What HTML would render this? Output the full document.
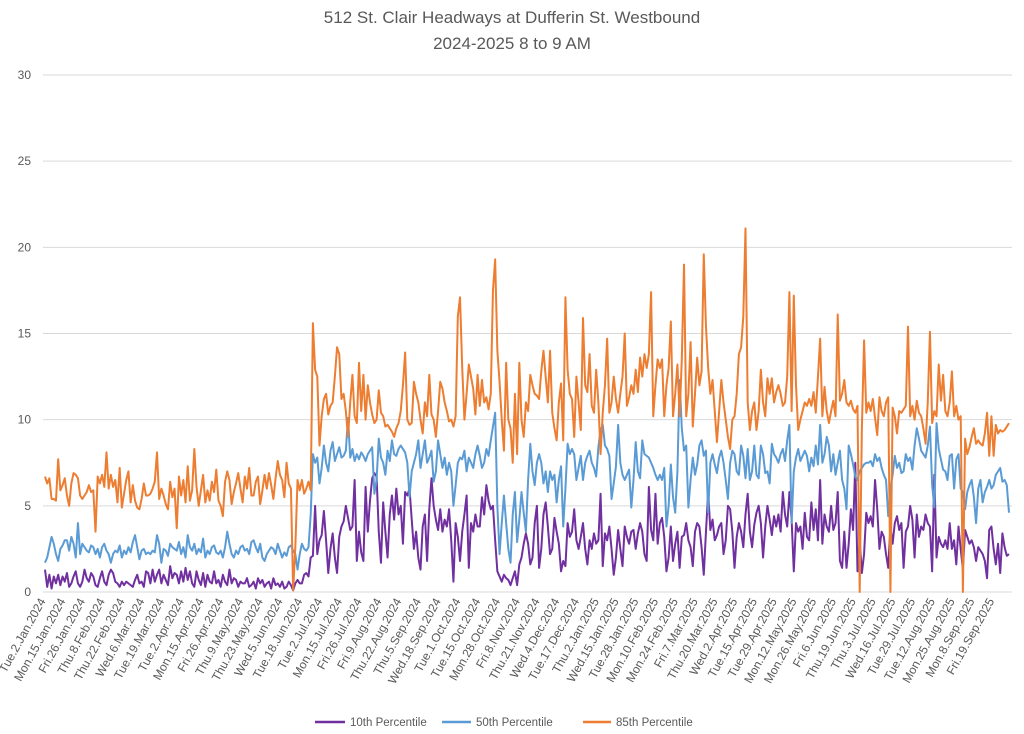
<!DOCTYPE html>
<html><head><meta charset="utf-8"><style>
html,body{margin:0;padding:0;background:#fff;}
svg{display:block;font-family:"Liberation Sans",sans-serif;}
</style></head><body>
<svg id="chart" width="1024" height="734" viewBox="0 0 1024 734">
<text x="512" y="23" text-anchor="middle" font-size="17" fill="#595959">512 St. Clair Headways at Dufferin St. Westbound</text>
<text x="512" y="49" text-anchor="middle" font-size="17" fill="#595959">2024-2025 8 to 9 AM</text>
<g id="grid"></g>
<g id="yaxis"></g>
<g id="xaxis"></g>
<g id="series"></g>
<g font-size="11.5" fill="#595959">
<g><line x1="315" y1="722" x2="345" y2="722" stroke="#7030a0" stroke-width="2.5"/><text x="350" y="726">10th Percentile</text></g>
<g><line x1="442" y1="722" x2="471" y2="722" stroke="#5b9bd5" stroke-width="2.5"/><text x="476" y="726">50th Percentile</text></g>
<g><line x1="583" y1="722" x2="611" y2="722" stroke="#ed7d31" stroke-width="2.5"/><text x="616" y="726">85th Percentile</text></g>
</g>
</svg>
<script>
const tickLabels=["Tue.2.Jan.2024","Mon.15.Jan.2024","Fri.26.Jan.2024","Thu.8.Feb.2024","Thu.22.Feb.2024","Wed.6.Mar.2024","Tue.19.Mar.2024","Tue.2.Apr.2024","Mon.15.Apr.2024","Fri.26.Apr.2024","Thu.9.May.2024","Thu.23.May.2024","Wed.5.Jun.2024","Tue.18.Jun.2024","Tue.2.Jul.2024","Mon.15.Jul.2024","Fri.26.Jul.2024","Fri.9.Aug.2024","Thu.22.Aug.2024","Thu.5.Sep.2024","Wed.18.Sep.2024","Tue.1.Oct.2024","Tue.15.Oct.2024","Mon.28.Oct.2024","Fri.8.Nov.2024","Thu.21.Nov.2024","Wed.4.Dec.2024","Tue.17.Dec.2024","Thu.2.Jan.2025","Wed.15.Jan.2025","Tue.28.Jan.2025","Mon.10.Feb.2025","Mon.24.Feb.2025","Fri.7.Mar.2025","Thu.20.Mar.2025","Wed.2.Apr.2025","Tue.15.Apr.2025","Tue.29.Apr.2025","Mon.12.May.2025","Mon.26.May.2025","Fri.6.Jun.2025","Thu.19.Jun.2025","Thu.3.Jul.2025","Wed.16.Jul.2025","Tue.29.Jul.2025","Tue.12.Aug.2025","Mon.25.Aug.2025","Mon.8.Sep.2025","Fri.19.Sep.2025"];
const yTicks=[0,5,10,15,20,25,30];
const p85=[6.7,6.3,6.6,5.4,5.4,5.3,7.7,5.9,6.2,6.6,
5.6,5.0,6.3,6.9,6.8,6.6,5.6,5.4,5.6,5.8,
6.2,5.8,5.9,3.5,6.7,6.3,6.8,6.1,8.1,6.0,
6.8,6.1,6.5,5.2,7.2,4.9,5.7,6.5,7.0,5.2,
6.2,5.3,4.9,4.8,5.4,6.3,5.6,5.6,5.7,6.0,
6.4,8.1,5.4,6.0,5.6,5.1,4.8,6.4,5.5,6.0,
3.7,6.7,5.6,6.5,5.2,7.3,5.3,5.9,8.3,6.1,
5.0,5.9,6.8,5.2,5.9,5.3,6.4,5.8,7.1,5.3,
5.0,4.4,6.4,7.0,6.5,5.1,5.8,6.3,6.9,6.0,
5.2,6.7,6.0,7.2,5.6,5.6,6.4,6.7,5.1,5.9,
6.8,6.0,6.9,6.2,5.4,6.6,7.6,6.8,6.5,5.5,
7.5,6.3,6.0,0.1,2.6,6.5,5.9,6.5,5.7,6.0,
6.4,5.9,15.6,12.9,12.5,8.5,10.2,11.2,11.5,10.3,
10.8,11.0,12.5,14.2,13.8,11.2,11.5,10.5,9.0,11.0,
12.6,10.2,9.8,13.3,10.5,12.6,10.0,12.0,11.0,10.3,
9.8,10.0,11.7,10.4,10.2,9.6,9.7,9.5,9.3,9.0,
9.5,9.8,10.5,12.0,13.9,10.0,9.7,9.8,12.2,11.5,
11.0,10.0,9.2,11.0,10.2,12.6,10.3,10.0,9.0,10.5,
12.2,11.8,11.0,10.5,9.9,10.0,9.6,10.2,16.0,17.1,
13.0,10.0,11.5,13.2,12.5,11.8,10.3,12.6,10.8,12.3,
11.0,11.3,10.6,11.5,17.5,19.3,14.0,12.2,10.0,8.2,
13.3,10.0,9.5,7.5,11.5,8.0,13.3,10.0,9.0,11.0,
10.5,12.6,12.0,11.5,11.4,11.2,12.8,14.0,12.5,11.0,
14.0,10.4,9.5,8.8,11.0,12.1,8.8,17.1,12.9,11.5,
11.2,9.0,12.5,11.0,9.4,15.9,12.0,11.6,13.8,10.8,
10.4,12.9,11.0,8.0,10.4,12.0,14.7,10.4,11.0,12.5,
11.2,10.4,11.5,12.5,15.0,10.8,11.3,12.0,11.5,12.9,
11.6,13.6,12.5,13.8,13.0,13.8,17.4,10.2,12.0,13.5,
13.0,13.5,10.2,12.0,13.0,15.7,10.2,11.5,13.2,10.2,
13.5,19.0,10.2,11.5,14.5,9.6,11.5,13.6,12.0,12.8,
19.6,15.4,13.0,11.5,12.3,10.5,8.7,10.5,12.3,11.0,
10.0,9.0,8.3,10.0,10.2,11.5,13.8,14.2,16.0,21.1,
11.0,9.4,10.5,11.0,9.4,10.5,12.9,11.0,10.2,12.4,
11.5,12.4,11.0,11.6,12.0,11.5,10.8,11.0,12.5,17.4,
10.5,17.2,12.0,9.4,10.0,10.5,11.0,10.8,11.2,10.8,
11.6,10.4,12.5,14.7,10.2,11.9,10.5,9.8,10.5,11.1,
10.2,16.1,11.1,11.5,12.3,11.0,10.8,11.1,10.6,10.4,
10.8,0.0,9.5,14.6,10.4,11.0,10.5,11.2,10.1,9.1,
11.3,10.5,10.2,11.0,11.3,0.0,10.7,10.2,9.2,10.5,
10.4,10.6,10.8,15.4,10.2,10.8,10.0,11.1,10.4,10.2,
9.5,8.6,11.0,15.1,9.8,10.5,10.2,13.2,11.1,12.6,
10.5,10.2,11.0,12.8,10.2,10.8,10.0,10.2,0.0,8.9,
8.0,8.4,9.0,9.5,8.6,8.8,8.6,8.5,9.2,10.4,
7.9,10.2,7.9,9.7,9.2,9.4,9.3,9.4,9.6,9.8];
const p50=[1.7,2.0,2.6,3.2,2.8,2.2,1.8,2.5,2.7,3.0,
3.0,2.4,3.2,2.8,2.0,4.0,2.2,2.8,2.6,2.4,
2.3,2.7,2.6,2.2,2.5,2.0,2.6,2.8,2.4,2.2,
1.7,2.2,2.4,2.3,2.7,2.0,2.4,2.2,2.6,2.3,
2.9,3.3,2.6,1.9,2.4,2.5,2.2,2.3,2.2,2.4,
2.3,3.3,2.8,1.7,2.5,2.4,2.1,2.8,2.6,2.5,
2.4,2.9,2.2,2.6,2.0,3.3,2.6,2.4,2.8,2.2,
2.5,2.3,3.1,2.0,2.4,2.2,2.6,2.7,2.3,2.2,
2.4,2.0,2.6,3.5,2.8,2.2,2.0,2.4,2.2,2.6,
2.7,2.4,2.5,2.2,2.9,3.0,2.6,2.3,2.8,2.0,
1.8,2.2,2.4,2.6,2.5,2.2,2.8,2.4,2.0,2.3,
2.1,2.6,2.7,2.4,2.2,1.3,2.2,2.8,2.5,2.4,
2.6,4.5,8.0,7.5,7.8,6.3,7.2,8.5,7.5,7.0,
8.2,8.7,7.6,8.0,8.4,7.8,7.9,8.2,10.1,7.8,
8.3,7.6,8.0,7.7,8.1,7.9,7.6,8.0,8.2,8.4,
5.7,6.5,8.9,7.8,7.5,6.8,8.2,7.6,8.8,8.0,
7.9,8.3,8.5,8.3,8.1,7.5,5.5,7.0,7.5,8.0,
8.8,7.2,8.0,8.8,7.5,7.8,8.2,6.4,7.0,8.8,
8.0,7.2,7.8,6.8,7.5,7.0,5.0,6.2,7.5,7.8,
7.7,8.2,7.0,7.8,7.5,7.2,8.0,8.5,7.9,7.2,
7.5,8.3,7.9,8.8,9.6,10.4,5.0,2.2,4.0,5.6,
4.0,2.5,1.7,4.5,5.8,2.9,4.2,5.8,4.6,3.5,
6.5,8.6,7.0,6.2,7.5,8.0,7.5,6.3,7.0,5.8,
7.0,6.5,6.8,5.2,6.5,7.3,3.8,6.0,8.6,8.0,
8.3,8.0,6.5,7.2,7.9,6.5,7.5,7.9,8.2,7.5,
7.2,6.7,8.4,9.4,9.7,8.5,8.3,7.9,5.4,6.3,
7.3,9.7,7.5,6.8,6.5,6.8,7.1,4.9,6.5,8.7,
7.0,6.6,8.8,8.0,7.9,7.8,7.5,7.2,6.8,6.5,
6.8,6.5,7.2,3.8,5.0,7.4,5.5,4.6,7.0,12.3,
9.5,8.2,8.5,4.9,6.5,7.8,6.8,7.4,8.5,8.8,
7.9,8.2,4.6,7.5,8.0,7.4,6.9,7.8,8.2,7.5,
6.5,5.4,7.5,8.2,8.0,7.0,6.8,8.5,7.9,6.6,
8.3,6.5,7.0,8.5,6.8,6.6,8.5,8.0,6.9,7.0,
6.3,8.6,8.0,7.8,7.5,8.0,8.3,7.6,8.8,9.7,
4.0,7.0,7.8,8.3,7.6,7.9,8.2,7.9,7.0,7.8,
7.3,8.5,7.4,9.7,7.5,8.0,9.0,8.5,7.0,8.0,
6.8,7.5,8.2,6.5,6.0,4.8,8.5,8.0,7.4,6.7,
6.5,7.0,7.2,7.4,7.5,7.5,7.6,7.3,8.0,7.6,
7.8,7.2,6.8,6.5,4.4,6.0,6.8,7.9,7.2,7.5,
6.9,7.0,8.0,7.6,7.8,7.1,8.5,9.5,8.9,8.2,
8.0,7.8,8.5,9.6,6.2,4.9,9.8,8.3,7.7,7.1,
7.0,6.5,7.9,8.0,6.0,7.7,8.0,6.0,5.8,4.8,
5.8,6.2,6.5,5.5,4.0,6.0,6.5,5.2,5.8,6.1,
6.5,6.0,6.2,6.8,7.0,7.2,6.4,6.5,6.2,4.6];
const p10=[1.3,0.3,1.0,0.2,0.9,0.5,1.0,0.4,0.9,0.6,
1.1,0.3,0.5,0.9,1.2,0.5,0.3,0.6,1.3,0.8,
0.6,1.1,0.9,0.4,0.3,0.8,1.2,0.6,0.4,1.0,
1.3,1.1,0.6,0.5,0.3,0.6,0.4,0.6,0.5,0.4,
0.3,0.7,1.0,0.5,0.6,0.3,1.2,1.1,0.5,1.3,
0.6,1.0,1.3,0.5,1.0,0.7,0.4,1.5,0.8,1.1,
1.0,0.5,1.2,0.6,1.4,0.7,1.2,0.5,0.3,1.2,
0.7,0.4,1.1,0.3,1.0,0.6,0.5,1.2,0.5,0.7,
0.3,1.0,0.6,0.4,1.3,0.5,0.8,0.7,0.3,0.6,
0.5,0.5,0.8,0.3,0.4,0.6,0.2,0.8,0.5,0.7,
0.3,0.5,0.6,0.2,0.8,0.4,0.5,0.3,0.6,0.2,
0.3,0.6,0.4,0.1,0.5,0.7,0.5,0.5,1.0,1.1,
0.9,2.0,2.1,5.0,2.2,3.0,3.3,4.7,3.0,1.1,
2.5,3.4,2.0,1.1,3.2,3.8,4.1,5.0,4.3,3.6,
3.8,6.5,1.8,3.5,2.3,1.8,6.1,3.5,5.3,6.6,
6.9,6.7,3.5,1.7,5.2,3.5,2.0,4.5,5.6,4.2,
6.0,4.5,5.0,2.8,5.8,5.6,6.0,4.2,2.5,3.5,
2.0,1.3,3.8,4.5,1.8,4.8,6.6,5.0,4.2,3.6,
4.8,3.5,4.2,3.8,4.8,3.0,0.6,4.0,3.2,1.8,
3.5,4.5,5.6,1.4,4.0,3.5,4.5,3.8,3.8,5.5,
4.5,6.2,5.3,4.8,5.0,3.0,1.2,0.9,0.6,1.0,
0.8,0.7,0.4,0.8,1.2,0.4,1.6,2.0,2.8,3.4,
2.8,1.6,2.0,4.0,5.0,1.4,2.5,4.5,5.2,3.8,
2.2,2.5,4.3,3.5,2.8,1.2,1.8,1.5,4.0,3.2,
3.5,4.8,3.0,2.5,3.2,4.0,2.5,1.6,3.0,2.5,
3.4,2.8,3.0,5.7,1.5,3.4,3.0,3.8,2.5,1.0,
2.0,3.6,2.5,1.5,3.8,3.2,2.8,3.5,3.6,2.5,
3.4,4.0,3.5,2.2,1.8,6.1,3.6,3.0,5.7,2.8,
4.0,4.3,3.2,1.2,2.0,3.8,1.8,2.8,3.5,1.4,
3.2,3.3,4.0,3.0,2.6,1.5,3.5,4.0,3.8,2.6,
1.0,3.5,5.8,3.6,4.2,3.0,3.3,3.8,4.0,2.2,
3.0,5.0,4.8,3.5,1.4,3.2,4.0,3.5,2.6,4.5,
5.7,3.5,2.6,3.9,4.6,5.0,4.0,2.0,3.8,5.0,
4.2,3.3,4.4,3.8,4.5,3.5,5.8,4.5,3.8,5.8,
4.2,1.2,4.0,3.5,3.8,2.5,4.6,3.2,3.0,5.2,
3.6,4.8,3.0,6.5,2.8,4.5,3.8,3.5,5.0,3.6,
4.0,5.8,1.8,1.4,3.5,1.4,2.8,4.8,3.6,7.5,
1.2,3.0,1.1,2.2,4.6,4.0,4.4,3.8,6.5,4.8,
2.5,3.5,3.2,2.2,1.4,3.8,2.8,4.0,4.4,3.6,
4.0,1.4,3.5,3.8,5.0,4.2,2.0,4.5,3.2,3.8,
3.6,4.5,4.0,3.8,1.2,6.8,2.0,3.2,2.8,2.6,
3.0,2.5,4.0,2.5,3.0,1.6,3.8,2.5,1.3,3.6,
3.2,2.8,3.0,2.6,1.8,2.6,2.4,2.2,1.8,0.8,
3.6,3.8,2.5,1.6,2.8,1.1,3.4,2.6,2.1,2.2];
const tickEvery=9;

const NS="http://www.w3.org/2000/svg";
const X0=45,X1=1009,Y0=592,Y1=75,YMAX=30;
const n=p85.length;
function xs(i){return X0+(X1-X0)*i/(n-1);}
function ys(v){return Y0-(Y0-Y1)*v/YMAX;}
function mk(t,a){const e=document.createElementNS(NS,t);for(const k in a)e.setAttribute(k,a[k]);return e;}
const grid=document.getElementById('grid'),yax=document.getElementById('yaxis'),xax=document.getElementById('xaxis'),ser=document.getElementById('series');
yTicks.forEach(v=>{
  const l=mk('line',{x1:43,x2:1012,y1:ys(v),y2:ys(v),stroke:'#d9d9d9','stroke-width':1});
  
  
  grid.appendChild(l);
  const t=mk('text',{x:31,y:ys(v)+4,'text-anchor':'end','font-size':12,fill:'#595959'});
  
  
  t.textContent=v;yax.appendChild(t);
});
tickLabels.forEach((s,k)=>{
  const x=xs(k*tickEvery)+1;
  const t=mk('text',{transform:`translate(${x},601) rotate(-61)`,'text-anchor':'end','font-size':12,fill:'#595959'});
  
  
  t.textContent=s;xax.appendChild(t);
});
function line(arr,col,name){
  const d=arr.map((v,i)=>(i?'L':'M')+xs(i).toFixed(2)+','+ys(v).toFixed(2)).join('');
  const p=mk('path',{d:d,fill:'none',stroke:col,'stroke-width':2,'stroke-linejoin':'round'});
  
  
  ser.appendChild(p);
}
line(p10,'#7030a0','line-10th-percentile');
line(p50,'#5b9bd5','line-50th-percentile');
line(p85,'#ed7d31','line-85th-percentile');
</script>
</body></html>
